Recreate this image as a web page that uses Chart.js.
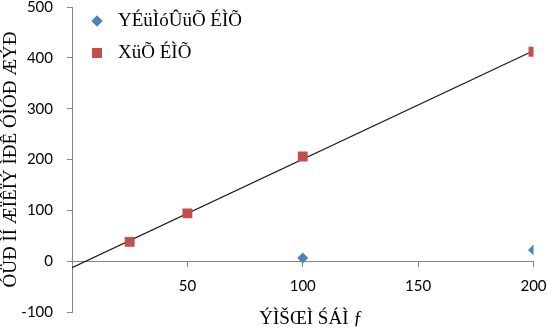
<!DOCTYPE html>
<html lang="en">
  <head>
    <meta charset="UTF-8" />
    <title>Scatter with trend line</title>
    <script src="https://cdn.jsdelivr.net/npm/chart.js"></script>
    <style>
      html, body { margin: 0; padding: 0; background: #fff; }
      #wrap { width: 547px; height: 328px; }
    </style>
  </head>
  <body>
    <div id="wrap"><canvas id="scatterChart"></canvas></div>
    <script>
      // values
      const seriesNames = ["YÉüÌóÛüÕ ÉÌÕ", "XüÕ ÉÌÕ"];
      const blueX = [100, 200];
      const blueY = [6, 22];
      const redX = [25, 50, 100, 200];
      const redY = [38, 94, 206, 412];
      const trendX = [0, 200];
      const trendY = [-13, 414];
      const xTitle = "ÝÌŠŒÌ ŚÁÌ ƒ";
      const yTitle = "ÓÜÐ ÌÍ ÆÏÊÏÝ ÌÐÊ ÓÌÓÐ ÆÝÐ";

      const toPoints = (xs, ys) => xs.map((x, i) => ({ x: x, y: ys[i] }));

      const blue = "#4F81BD";
      const red = "#C0504D";
      const axisGray = "#868686";

      const legendPlugin = {
        id: "insideLegend",
        afterDraw(chart) {
          const ctx = chart.ctx;
          const items = [
            { name: seriesNames[0], style: "rectRot", color: blue, r: 5.5 },
            { name: seriesNames[1], style: "rect", color: red, r: 7 },
          ];
          ctx.save();
          items.forEach((it, i) => {
            const y = 21 + i * 32;
            ctx.fillStyle = it.color;
            Chart.helpers.drawPoint(ctx, { pointStyle: it.style, radius: it.r, borderWidth: 0 }, 97, y);
            ctx.fill();
            ctx.fillStyle = "#000";
            ctx.font = "19px 'Liberation Serif'";
            ctx.textBaseline = "middle";
            ctx.textAlign = "left";
            ctx.fillText(it.name, 118, y);
          });
          // x axis title under the plot
          ctx.textAlign = "center";
          ctx.fillText(xTitle, 311, 319);
          ctx.restore();
        },
      };

      new Chart(document.getElementById("scatterChart"), {
        type: "scatter",
        data: {
          datasets: [
            {
              label: seriesNames[0],
              data: toPoints(blueX, blueY),
              pointStyle: "rectRot",
              pointRadius: 5.5,
              backgroundColor: blue,
              borderColor: blue,
              borderWidth: 0,
            },
            {
              label: seriesNames[1],
              data: toPoints(redX, redY),
              pointStyle: "rect",
              pointRadius: 7,
              backgroundColor: red,
              borderColor: red,
              borderWidth: 0,
            },
            {
              type: "line",
              label: "trend",
              data: toPoints(trendX, trendY),
              borderColor: "#1a1a1a",
              borderWidth: 1.3,
              pointRadius: 0,
              fill: false,
            },
          ],
        },
        options: {
          responsive: true,
          maintainAspectRatio: false,
          animation: false,
          layout: { padding: { left: 0, right: 13.5, top: 6, bottom: 16 } },
          plugins: {
            legend: { display: false },
            tooltip: { enabled: false },
          },
          scales: {
            x: {
              type: "linear",
              position: { y: 0 },
              min: 0,
              max: 200,
              afterFit(scale) {
                scale.height = 0;
                scale.paddingLeft = 0;
                scale.paddingRight = 0;
              },
              ticks: {
                stepSize: 50,
                padding: 11,
                color: "#000",
                font: { family: "Lato", size: 15 },
                callback: (v) => (v === 0 ? "" : v),
              },
              grid: {
                drawOnChartArea: false,
                drawTicks: true,
                tickLength: 5,
                color: axisGray,
              },
              border: { color: axisGray, width: 1 },
            },
            y: {
              min: -100,
              max: 500,
              afterFit(scale) {
                scale.width = 72;
                scale.paddingTop = 0;
                scale.paddingBottom = 0;
              },
              ticks: {
                stepSize: 100,
                padding: 14,
                color: "#000",
                font: { family: "Lato", size: 15 },
              },
              grid: {
                drawOnChartArea: false,
                drawTicks: true,
                tickLength: 5,
                color: axisGray,
              },
              border: { color: axisGray, width: 1 },
              title: {
                display: true,
                text: yTitle,
                color: "#000",
                font: { family: "Liberation Serif", size: 19 },
                padding: { top: 0, bottom: 0 },
              },
            },
          },
        },
        plugins: [legendPlugin],
      });
    </script>
  </body>
</html>
